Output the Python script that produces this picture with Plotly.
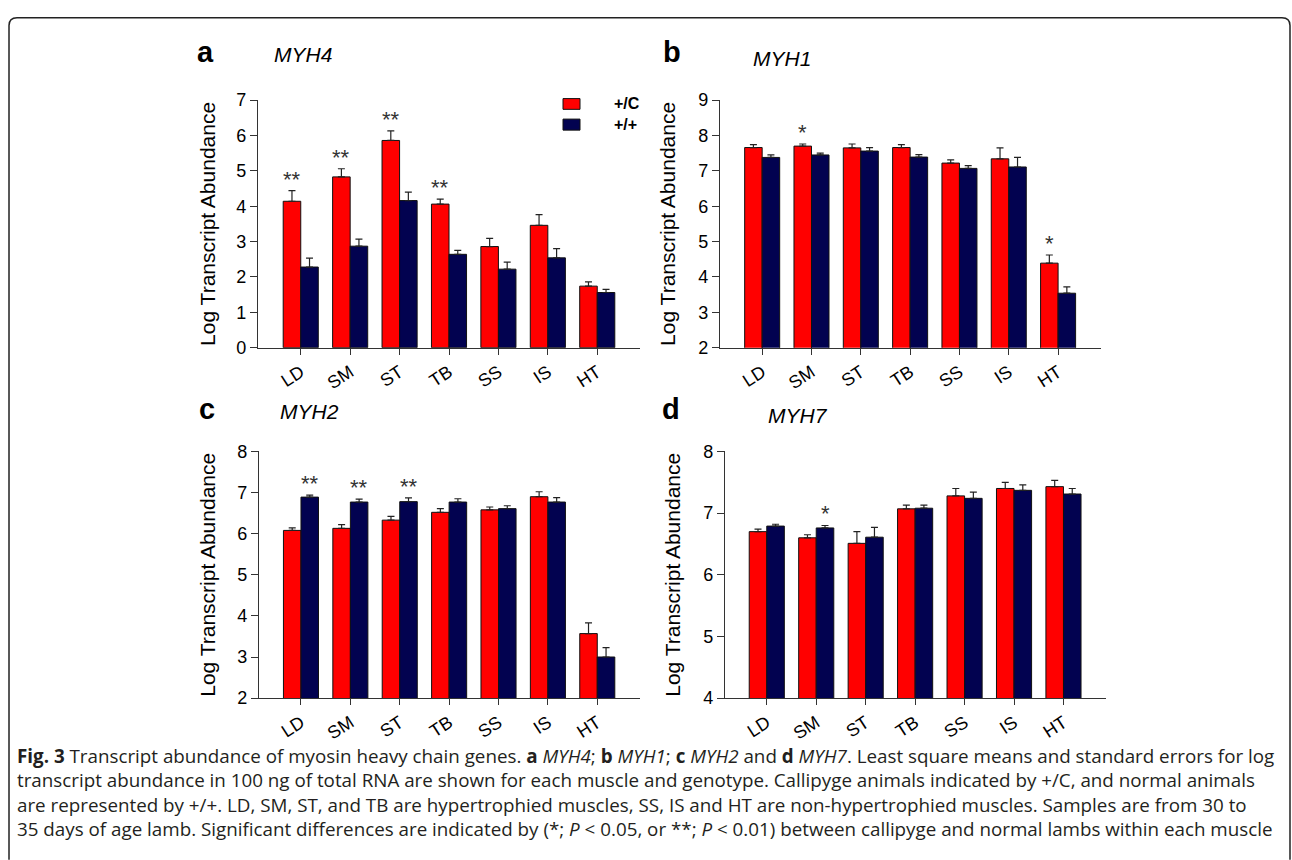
import plotly.graph_objects as go

W, H = 1292, 860

muscles = ["LD", "SM", "ST", "TB", "SS", "IS", "HT"]

# Panel a: MYH4
myh4_cal = [4.14, 4.83, 5.86, 4.06, 2.86, 3.46, 1.74]
myh4_cal_se = [0.30, 0.23, 0.27, 0.14, 0.23, 0.30, 0.12]
myh4_norm = [2.28, 2.87, 4.16, 2.64, 2.22, 2.54, 1.56]
myh4_norm_se = [0.25, 0.20, 0.24, 0.11, 0.20, 0.26, 0.09]
myh4_stars_cal = ["**", "**", "**", "**", "", "", ""]
myh4_stars_norm = ["", "", "", "", "", "", ""]

# Panel b: MYH1
myh1_cal = [7.66, 7.70, 7.65, 7.66, 7.22, 7.34, 4.39]
myh1_cal_se = [0.08, 0.06, 0.11, 0.08, 0.09, 0.31, 0.23]
myh1_norm = [7.38, 7.45, 7.56, 7.39, 7.07, 7.11, 3.54]
myh1_norm_se = [0.07, 0.05, 0.10, 0.07, 0.08, 0.27, 0.18]
myh1_stars_cal = ["", "*", "", "", "", "", "*"]
myh1_stars_norm = ["", "", "", "", "", "", ""]

# Panel c: MYH2
myh2_cal = [6.08, 6.13, 6.33, 6.52, 6.58, 6.90, 3.57]
myh2_cal_se = [0.06, 0.09, 0.09, 0.09, 0.07, 0.12, 0.26]
myh2_norm = [6.89, 6.77, 6.78, 6.77, 6.61, 6.77, 3.00]
myh2_norm_se = [0.05, 0.07, 0.09, 0.08, 0.07, 0.11, 0.23]
myh2_stars_cal = ["", "", "", "", "", "", ""]
myh2_stars_norm = ["**", "**", "**", "", "", "", ""]

# Panel d: MYH7
myh7_cal = [6.70, 6.60, 6.51, 7.07, 7.28, 7.40, 7.43]
myh7_cal_se = [0.04, 0.05, 0.19, 0.06, 0.12, 0.10, 0.10]
myh7_norm = [6.79, 6.76, 6.61, 7.08, 7.24, 7.37, 7.31]
myh7_norm_se = [0.03, 0.04, 0.16, 0.05, 0.10, 0.09, 0.09]
myh7_stars_cal = ["", "", "", "", "", "", ""]
myh7_stars_norm = ["", "*", "", "", "", "", ""]

series_names = ["+/C", "+/+"]
y_title = "Log Transcript Abundance"

caption_lines = [
    "<b>Fig. 3</b> Transcript abundance of myosin heavy chain genes. <b>a</b> <i>MYH4</i>; <b>b</b> <i>MYH1</i>; "
    "<b>c</b> <i>MYH2</i> and <b>d</b> <i>MYH7</i>. Least square means and standard errors for log",
    "transcript abundance in 100 ng of total RNA are shown for each muscle and genotype. Callipyge animals indicated by +/C, and normal animals",
    "are represented by +/+. LD, SM, ST, and TB are hypertrophied muscles, SS, IS and HT are non-hypertrophied muscles. Samples are from 30 to",
    "35 days of age lamb. Significant differences are indicated by (*; <i>P</i> &lt; 0.05, or **; <i>P</i> &lt; 0.01) "
    "between callipyge and normal lambs within each muscle",
]

RED = "#ff0000"
NAVY = "#020250"
FONT = "Liberation Sans, Arial, sans-serif"


def fx(px):
    return px / W


def fy(py):
    return 1 - py / H


panels = [
    dict(letter="a", gene="MYH4", cal=myh4_cal, cse=myh4_cal_se, norm=myh4_norm, nse=myh4_norm_se,
         sc=myh4_stars_cal, sn=myh4_stars_norm, yr=[0, 7],
         xd=(258, 640), yd=(92.3, 345.7), xr=[-0.865, 6.865],
         letter_pos=(205.5, 43), gene_pos=(303, 46), ytitle_x=208),
    dict(letter="b", gene="MYH1", cal=myh1_cal, cse=myh1_cal_se, norm=myh1_norm, nse=myh1_norm_se,
         sc=myh1_stars_cal, sn=myh1_stars_norm, yr=[2, 9],
         xd=(720, 1101), yd=(92.3, 345.7), xr=[-0.855, 6.87],
         letter_pos=(672, 43), gene_pos=(782, 49.5), ytitle_x=668),
    dict(letter="c", gene="MYH2", cal=myh2_cal, cse=myh2_cal_se, norm=myh2_norm, nse=myh2_norm_se,
         sc=myh2_stars_cal, sn=myh2_stars_norm, yr=[2, 8],
         xd=(259, 640), yd=(452, 704.5), xr=[-0.85, 6.865],
         letter_pos=(206.5, 409), gene_pos=(309, 411.5), ytitle_x=208),
    dict(letter="d", gene="MYH7", cal=myh7_cal, cse=myh7_cal_se, norm=myh7_norm, nse=myh7_norm_se,
         sc=myh7_stars_cal, sn=myh7_stars_norm, yr=[4, 8],
         xd=(725, 1106), yd=(452, 704.5), xr=[-0.845, 6.86],
         letter_pos=(671, 409), gene_pos=(797.5, 415), ytitle_x=673),
]

fig = go.Figure()
annotations = []
layout = {}
bargap = 0.29
half = (1 - bargap) / 4.0

for i, p in enumerate(panels):
    n = "" if i == 0 else str(i + 1)
    xa, ya = "x" + n, "y" + n
    for vals, se, color, name in [(p["cal"], p["cse"], RED, series_names[0]),
                                  (p["norm"], p["nse"], NAVY, series_names[1])]:
        fig.add_trace(go.Bar(
            x=muscles, y=vals, name=name, marker=dict(color=color, line=dict(color="#111111", width=1)),
            error_y=dict(type="data", array=se, arrayminus=[0] * len(se), symmetric=False,
                         color="#222222", thickness=1.2, width=3.5),
            xaxis=xa, yaxis=ya, showlegend=False,
        ))
    layout["xaxis" + n] = dict(
        domain=[fx(p["xd"][0]), fx(p["xd"][1])], anchor=ya, type="category",
        categoryorder="array", categoryarray=muscles, range=p["xr"],
        showline=True, linecolor="#333333", linewidth=1.3, ticks="outside", ticklen=6,
        tickcolor="#333333", tickwidth=1.3, tickangle=-33, showgrid=False, zeroline=False,
        tickfont=dict(family=FONT, size=18, color="#000000"),
    )
    layout["yaxis" + n] = dict(
        domain=[fy(p["yd"][1]), fy(p["yd"][0])], anchor=xa, range=p["yr"], dtick=1,
        showline=True, linecolor="#333333", linewidth=1.3, ticks="outside", ticklen=7,
        tickcolor="#333333", tickwidth=1.3, showgrid=False, zeroline=False,
        tickfont=dict(family=FONT, size=18, color="#000000"),
    )
    # significance marks
    for j, m in enumerate(muscles):
        for stars, vals, se, off in [(p["sc"], p["cal"], p["cse"], -half),
                                     (p["sn"], p["norm"], p["nse"], half)]:
            if stars[j]:
                annotations.append(dict(
                    x=j + off, y=vals[j] + se[j], xref=xa, yref=ya, text=stars[j], showarrow=False,
                    xanchor="center", yanchor="bottom", yshift=-3,
                    font=dict(family=FONT, size=22, color="#333333"),
                ))
    # panel letter and gene
    annotations.append(dict(x=fx(p["letter_pos"][0]), y=fy(p["letter_pos"][1]), xref="paper", yref="paper",
                            text="<b>%s</b>" % p["letter"], showarrow=False, xanchor="center", yanchor="middle",
                            font=dict(family=FONT, size=29, color="#000000")))
    annotations.append(dict(x=fx(p["gene_pos"][0]), y=fy(p["gene_pos"][1]), xref="paper", yref="paper",
                            text="<i>%s</i>" % p["gene"], showarrow=False, xanchor="center", yanchor="middle",
                            font=dict(family=FONT, size=21, color="#000000")))
    # y axis title
    annotations.append(dict(x=fx(p["ytitle_x"]), y=fy((p["yd"][0] + p["yd"][1]) / 2), xref="paper", yref="paper",
                            text=y_title, textangle=-90, showarrow=False, xanchor="center", yanchor="middle",
                            font=dict(family=FONT, size=21, color="#000000")))

# legend (panel a)
shapes = []
for k, (color, name, ytop, ybot) in enumerate([(RED, series_names[0], 90.7, 101.7),
                                                (NAVY, series_names[1], 111.7, 123.0)]):
    shapes.append(dict(type="rect", xref="paper", yref="paper", x0=fx(563), x1=fx(580), y0=fy(ybot), y1=fy(ytop),
                       fillcolor=color, line=dict(color="#111111", width=1)))
    annotations.append(dict(x=fx(612), y=fy((ytop + ybot) / 2), xref="paper", yref="paper",
                            text="<b>%s</b>" % name, showarrow=False, xanchor="left", yanchor="middle",
                            font=dict(family=FONT, size=16, color="#000000")))

# caption (one block, explicit line breaks as in the reference)
annotations.append(dict(x=fx(15), y=fy(801), xref="paper", yref="paper", text="<br>".join(caption_lines),
                        showarrow=False, xanchor="left", yanchor="middle", align="left",
                        font=dict(family="Open Sans, sans-serif", size=18.8, color="#231f20")))

# rounded border (open at bottom)
def P(x, y):
    return "%.5f,%.5f" % (fx(x), fy(y))

r = 8
path = ("M " + P(9, 870) + " L " + P(9, 8 + r) + " Q " + P(9, 8) + " " + P(9 + r, 8) +
        " L " + P(1290 - r, 8) + " Q " + P(1290, 8) + " " + P(1290, 8 + r) + " L " + P(1290, 870))
shapes.append(dict(type="path", xref="paper", yref="paper", path=path, line=dict(color="#222222", width=1.5)))

fig.update_layout(
    width=W, height=H, margin=dict(l=0, r=0, t=0, b=0),
    paper_bgcolor="white", plot_bgcolor="white",
    barmode="group", bargap=bargap, bargroupgap=0,
    showlegend=False, annotations=annotations, shapes=shapes,
    **layout,
)

fig.write_html("out.html", post_script="document.body.style.margin='0';document.body.style.overflow='hidden';")
